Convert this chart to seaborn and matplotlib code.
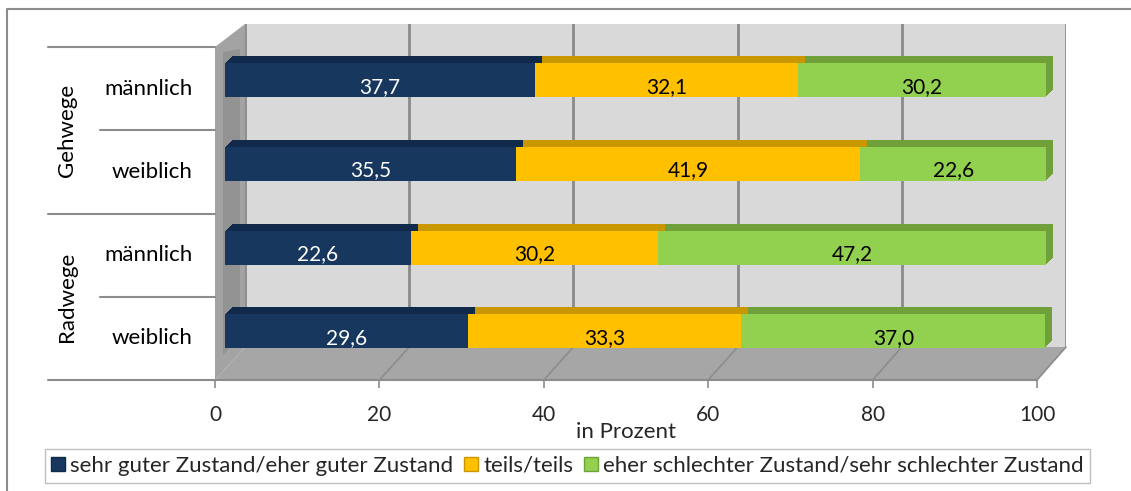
import numpy as np
import pandas as pd
import matplotlib
matplotlib.use("Agg")
import matplotlib.pyplot as plt
from matplotlib import transforms
from matplotlib.patches import Polygon, Patch
import seaborn as sns

# ---------------- data ----------------
groups = ["Gehwege", "Radwege"]
genders = ["männlich", "weiblich"]
series_names = ["sehr guter Zustand/eher guter Zustand",
                "teils/teils",
                "eher schlechter Zustand/sehr schlechter Zustand"]
gut = [37.7, 35.5, 22.6, 29.6]
teils = [32.1, 41.9, 30.2, 33.3]
schlecht = [30.2, 22.6, 47.2, 37.0]
x_ticks = [0, 20, 40, 60, 80, 100]
x_label = "in Prozent"

# ---------------- style ----------------
sns.set_theme(style="white")
plt.rcParams["font.family"] = ["Lato", "DejaVu Sans"]

front_cols = ["#17375e", "#ffc000", "#92d050"]
top_cols = ["#11294a", "#c99800", "#70a03a"]
text_cols = ["white", "black", "black"]
FS_CAT = 16
FS_VAL = 15
FS_TICK = 15
FS_LEG = 16

W, H = 1131, 491
fig = plt.figure(figsize=(W / 100, H / 100), dpi=100)


def rect(x0, y0, x1, y1):
    return [x0 / W, 1 - y1 / H, (x1 - x0) / W, (y1 - y0) / H]


# background / decoration axes in pixel coordinates
bg = fig.add_axes([0, 0, 1, 1], zorder=0)
bg.set_xlim(0, W)
bg.set_ylim(H, 0)
bg.axis("off")

# back wall with gridlines
back = fig.add_axes(rect(245, 24, 1066, 347), zorder=1)
back.set_facecolor("#d9d9d9")
back.set_xlim(0, 100)
back.set_xticks(x_ticks)
back.set_yticks([])
back.grid(axis="x", color="#8a8a8a", lw=2)
back.tick_params(length=0, labelbottom=False)
for s in back.spines.values():
    s.set_visible(False)

# front axis (ticks, category structure)
front = fig.add_axes(rect(215, 47, 1037, 380), zorder=2)
front.set_facecolor("none")
front.set_xlim(0, 100)
front.set_ylim(3.5, -0.5)
front.set_xticks(x_ticks)
front.set_xticklabels([str(t) for t in x_ticks], fontsize=FS_TICK)
front.set_yticks([])
for k, s in front.spines.items():
    s.set_visible(k == "bottom")
front.spines["bottom"].set_color("#8c8c8c")
front.spines["bottom"].set_linewidth(1.5)
front.tick_params(axis="x", direction="out", length=6, width=1.2,
                  color="#8c8c8c", pad=12, bottom=True)
front.set_xlabel(x_label, fontsize=FS_LEG)
front.xaxis.set_label_coords(0.5, -0.125)

# walls/floor geometry
to_bg = bg.transData.inverted()


def fpt(v, y):
    return to_bg.transform(front.transData.transform((v, y)))


def bpt(v, yfrac):
    return to_bg.transform(back.transAxes.transform((v / 100, yfrac)))


fl0, fr0 = fpt(0, 3.5), fpt(100, 3.5)
bl0, br0 = bpt(0, 0), bpt(100, 0)
floor = Polygon([fl0, fr0, br0, bl0], closed=True, facecolor="#a6a6a6",
                edgecolor="none")
bg.add_patch(floor)
tl_front = fpt(0, -0.5)
tl_back = bpt(0, 1)
wall = Polygon([tl_front, tl_back, bl0, fl0], closed=True,
               facecolor="#a3a3a3", edgecolor="none")
bg.add_patch(wall)
# shadow strip on the left wall
shadow = Polygon([(tl_front[0] + 8, tl_front[1] + 5), (tl_back[0] - 5, tl_back[1] + 25),
                  (bl0[0] - 5, bl0[1] - 10), (fl0[0] + 8, fl0[1] - 25)],
                 closed=True, facecolor="#808080", edgecolor="none", alpha=0.45)
bg.add_patch(shadow)
for v in x_ticks[1:]:
    a, b = fpt(v, 3.5), bpt(v, 0)
    bg.plot([a[0], b[0]], [a[1], b[1]], color="#8c8c8c", lw=1.2)

# outer border
bg.plot([7, 7, W], [H, 9, 9], color="#8c8c8c", lw=1.5)

# ---------------- bars ----------------
rows = [f"{g} {s}" for g in groups for s in genders]
df = pd.DataFrame({"row": rows, "gut": gut, "teils": teils, "schlecht": schlecht})
c1 = df["gut"].values
c2 = c1 + df["teils"].values
c3 = c2 + df["schlecht"].values

bars = fig.add_axes(rect(225, 38, 1046, 373.4), zorder=3)
bars.set_facecolor("none")

DEPTH = 7  # pixels of extrusion
for cum, col in [(c3, top_cols[2]), (c2, top_cols[1]), (c1, top_cols[0])]:
    for k in range(DEPTH, 0, -1):
        shift = transforms.ScaledTranslation(k / 100, k / 100, fig.dpi_scale_trans)
        n0 = len(bars.patches)
        sns.barplot(x=cum, y=rows, orient="h", color=col, saturation=1,
                    width=0.405, linewidth=0, ax=bars)
        for p in bars.patches[n0:]:
            p.set_transform(bars.transData + shift)
            p.set_clip_on(False)

for cum, col in [(c3, front_cols[2]), (c2, front_cols[1]), (c1, front_cols[0])]:
    n0 = len(bars.patches)
    sns.barplot(x=cum, y=rows, orient="h", color=col, saturation=1,
                width=0.405, linewidth=0, ax=bars)
    for p in bars.patches[n0:]:
        p.set_clip_on(False)

bars.set_xlim(0, 100)
bars.set_ylim(3.5, -0.5)
bars.axis("off")

for i in range(len(rows)):
    vals = [gut[i], teils[i], schlecht[i]]
    start = 0
    for v, tc in zip(vals, text_cols):
        bars.text(start + v / 2, i + 0.08, f"{v:.1f}".replace(".", ","),
                  ha="center", va="center", color=tc, fontsize=FS_VAL)
        start += v

# ---------------- category labels ----------------
trans = transforms.blended_transform_factory(bg.transData, front.transData)
for i, r in enumerate(rows):
    bg.text(193, i, genders[i % 2], transform=trans, ha="right", va="center",
            fontsize=FS_CAT, color="black")
for g, name in enumerate(groups):
    bg.text(67, 2 * g + 0.5, name, transform=trans, ha="center", va="center",
            rotation=90, fontsize=FS_CAT, color="black")
for y in [-0.5, 1.5, 3.5]:
    bg.plot([48, 215], [y, y], transform=trans, color="#8c8c8c", lw=1.5)
for y in [0.5, 2.5]:
    bg.plot([100, 215], [y, y], transform=trans, color="#8c8c8c", lw=1.5)

# ---------------- legend ----------------
handles = [Patch(facecolor=fc, edgecolor=tc) for fc, tc in zip(front_cols, top_cols)]
fig.legend(handles, series_names, loc="center",
           bbox_to_anchor=((50 + 1085) / 2 / W, 1 - 466 / H), ncol=3,
           frameon=True, fancybox=False, edgecolor="#bfbfbf", framealpha=1,
           handlelength=0.6, handleheight=0.6, handletextpad=0.25,
           columnspacing=0.5, borderpad=0.3, fontsize=FS_LEG)

fig.savefig("out.png", dpi=100)
